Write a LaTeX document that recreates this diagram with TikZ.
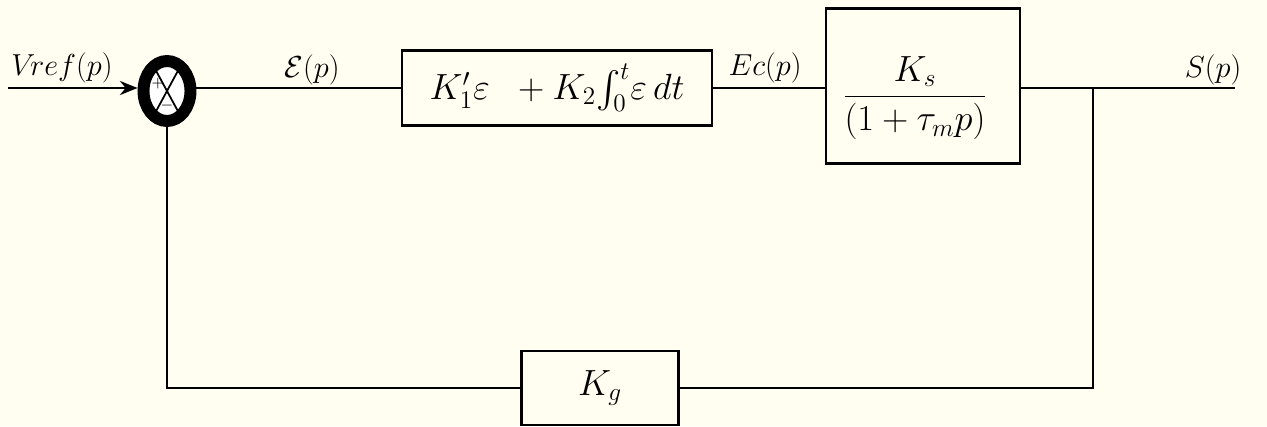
\documentclass[tikz,border=0pt]{standalone}
\usepackage{amsmath}
\usetikzlibrary{shapes.geometric,arrows.meta,calc}
\begin{document}
\begin{tikzpicture}[x=0.02cm,y=-0.02cm,
  blk/.style={draw,line width=1.6pt,inner sep=0pt},
  wire/.style={line width=1.4pt},
  lbl/.style={font=\fontsize{19}{22}\selectfont},
  txt/.style={font=\fontsize{21}{25}\selectfont}]
\useasboundingbox[fill={rgb,255:red,255;green,254;blue,240}] (0,0) rectangle (1267,426);
% summer
\node[ellipse,draw,line width=6.8pt,minimum width=0.94cm,minimum height=1.2cm,inner sep=0pt,fill=white] (sum) at (167,91) {};
\draw[line width=1pt] ($(sum.center)+(-13,-24)$) -- ($(sum.center)+(13,24)$);
\draw[line width=1pt] ($(sum.center)+(13,-24)$) -- ($(sum.center)+(-13,24)$);
\node[font=\small,inner sep=0pt] (plus) at (158,84) {$+$};
\node[font=\small,inner sep=0pt] (minus) at (167,106) {$-$};
% blocks
\node[blk,minimum width=6.2cm,minimum height=1.5cm,txt] (b1) at (557,88) {$K_1'\varepsilon\;\;+K_2\!\int_0^t\!\varepsilon\,dt$};
\node[blk,minimum width=3.88cm,minimum height=3.1cm] (b2) at (923,86) {};
\node[txt,inner sep=0pt] (b2t) at (915,98) {$\dfrac{\;\;K_s\;\;}{(1+\tau_m p)}$};
\node[blk,minimum width=3.14cm,minimum height=1.48cm,txt] (b3) at (600,388) {$K_g$};
% coordinates
\coordinate (in) at (8,88);
\coordinate (out) at (1235,88);
\coordinate (br) at (1093,88);
\coordinate (brd) at (1093,388);
\coordinate (fbl) at (167,388);
% wires
\draw[wire,-{Stealth[length=10pt,width=8pt]}] (in) -- (in -| sum.west);
\draw[wire] (sum.east |- in) -- (in -| b1.west);
\draw[wire] (b1.east |- in) -- (in -| b2.west);
\draw[wire] (b2.east |- out) -- (out);
\draw[wire] (br) -- (brd) -- (b3.east);
\draw[wire] (b3.west) -- (fbl) -- (sum.south);
% labels
\node[lbl] (lv) at (62,68) {$V\!ref(p)$};
\node[lbl] (le) at (312,70) {$\mathcal{E}(p)$};
\node[lbl] (lec) at (765,68) {$Ec(p)$};
\node[lbl] (ls) at (1213,70) {$S(p)$};
\end{tikzpicture}
\end{document}
